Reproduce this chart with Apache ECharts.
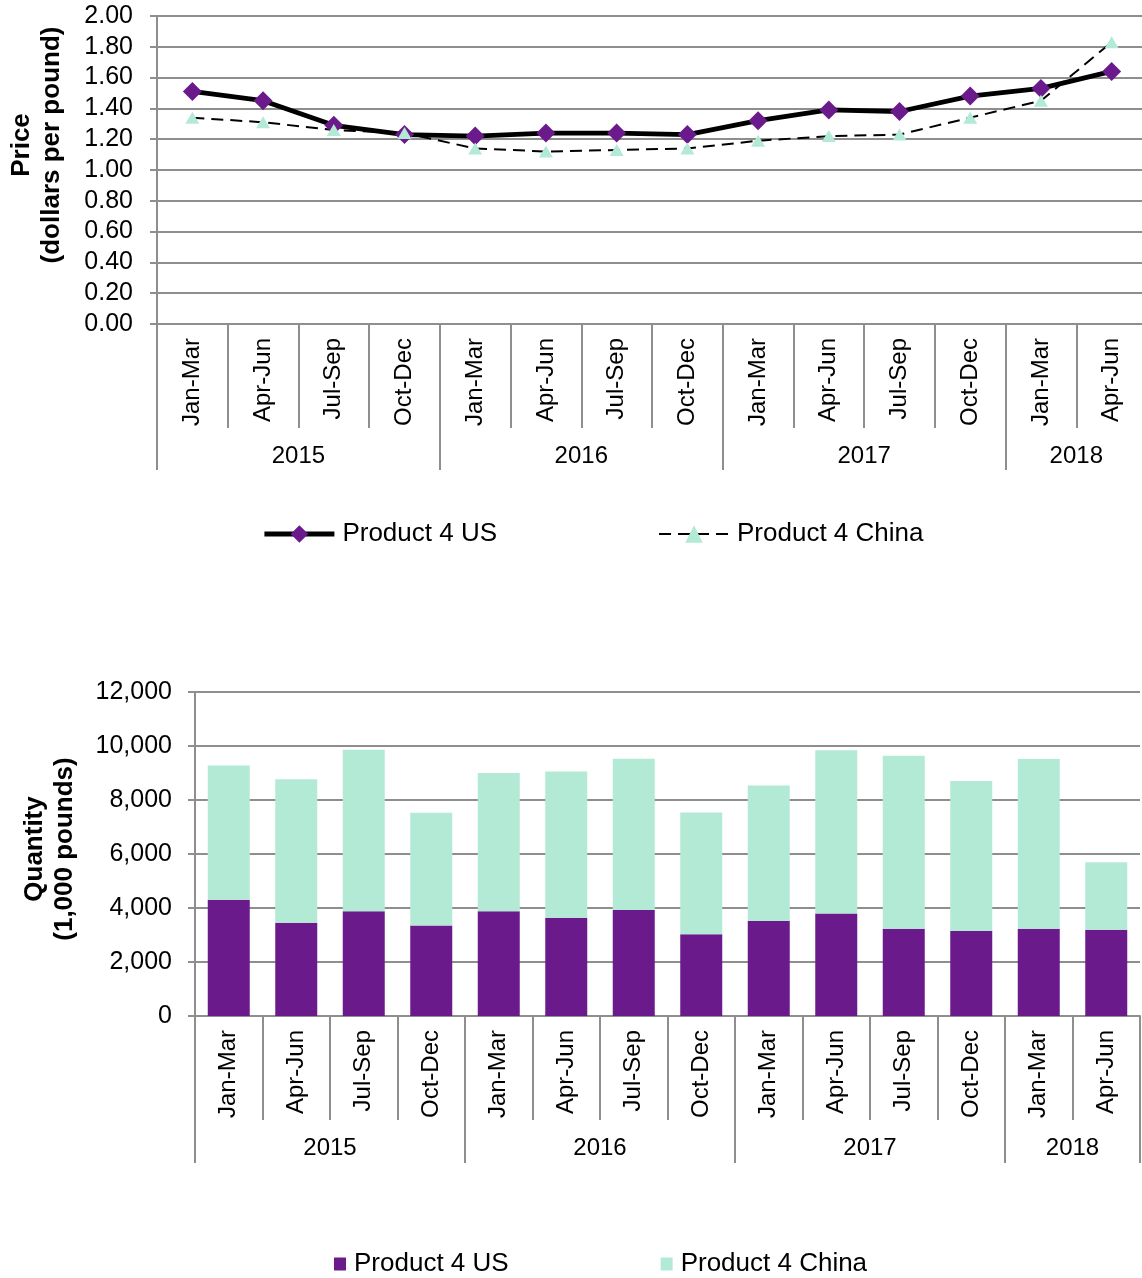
<!DOCTYPE html>
<html>
<head>
<meta charset="utf-8">
<script src="https://cdn.jsdelivr.net/npm/echarts@6/dist/echarts.min.js"></script>
<style>
  html, body { margin: 0; padding: 0; background: #ffffff; overflow: hidden; }
  #chart { width: 1152px; height: 1278px; }
</style>
</head>
<body>
<div id="chart"></div>
<script>
// Quarterly periods and the years that group them
const quarters = [
  'Jan-Mar', 'Apr-Jun', 'Jul-Sep', 'Oct-Dec',
  'Jan-Mar', 'Apr-Jun', 'Jul-Sep', 'Oct-Dec',
  'Jan-Mar', 'Apr-Jun', 'Jul-Sep', 'Oct-Dec',
  'Jan-Mar', 'Apr-Jun'
];
const years = ['2015', '2016', '2017', '2018'];
const quartersPerYear = [4, 4, 4, 2];

// Price, dollars per pound
const priceUS    = [1.51, 1.45, 1.29, 1.23, 1.22, 1.24, 1.24, 1.23, 1.32, 1.39, 1.38, 1.48, 1.53, 1.64];
const priceChina = [1.34, 1.31, 1.26, 1.24, 1.14, 1.12, 1.13, 1.14, 1.19, 1.22, 1.23, 1.34, 1.45, 1.83];

// Quantity, 1,000 pounds
const qtyUS    = [4310, 3450, 3880, 3350, 3880, 3640, 3930, 3030, 3520, 3800, 3230, 3150, 3230, 3190];
const qtyChina = [4970, 5320, 5980, 4180, 5120, 5420, 5600, 4510, 5020, 6040, 6410, 5550, 6290, 2500];

const seriesNames = ['Product 4 US', 'Product 4 China'];
const priceAxisTitle = 'Price\n(dollars per pound)';
const qtyAxisTitle = 'Quantity\n(1,000 pounds)';

const FONT = '"Liberation Sans", Arial, sans-serif';
const GRAY = '#8e8e8e';
const PURPLE = '#6b1a8c';
const TEAL = '#b3ead6';
const US_LINE_WIDTH = 4.8;
const CHINA_DASH = [12, 7];

// Year axis: half-quarter slots so year labels can sit between quarters
const yearBounds = [0];
quartersPerYear.forEach(n => yearBounds.push(yearBounds[yearBounds.length - 1] + n * 2));
const yearSlots = new Array(quarters.length * 2 + 1).fill('');
years.forEach((y, i) => { yearSlots[(yearBounds[i] + yearBounds[i + 1]) / 2] = y; });

function quarterAxis(gridIndex) {
  return {
    type: 'category', gridIndex, data: quarters, position: 'bottom', boundaryGap: true,
    axisLine: { show: true, lineStyle: { color: GRAY, width: 2 } },
    axisTick: { show: true, interval: 0, length: 104, lineStyle: { color: GRAY, width: 2 } },
    axisLabel: { interval: 0, rotate: 90, margin: 14, fontSize: 24, color: '#000', fontFamily: FONT },
    splitLine: { show: false }
  };
}
function yearAxis(gridIndex, tickLen) {
  return {
    type: 'category', gridIndex, data: yearSlots, position: 'bottom', boundaryGap: false,
    axisLine: { show: false },
    axisTick: { show: true, interval: (i) => yearBounds.includes(i), length: tickLen, lineStyle: { color: GRAY, width: 2 } },
    axisLabel: { interval: (i, v) => v !== '', margin: 120, fontSize: 24, color: '#000', fontFamily: FONT },
    splitLine: { show: false }
  };
}
function valueAxis(gridIndex, min, max, interval, formatter, margin) {
  return {
    type: 'value', gridIndex, min, max, interval,
    axisLine: { show: true, lineStyle: { color: GRAY, width: 2 } },
    axisTick: { show: true, length: 7, lineStyle: { color: GRAY, width: 2 } },
    axisLabel: { formatter, margin, fontSize: 25, color: '#000', fontFamily: FONT },
    splitLine: { show: true, lineStyle: { color: GRAY, width: 2 } }
  };
}

const chart = echarts.init(document.getElementById('chart'), null, { renderer: 'canvas' });
chart.setOption({
  animation: false,
  backgroundColor: '#ffffff',
  textStyle: { fontFamily: FONT },
  grid: [
    { left: 157, top: 16, width: 990, height: 308 },
    { left: 195, top: 692, width: 945, height: 324 }
  ],
  xAxis: [quarterAxis(0), yearAxis(0, 146), quarterAxis(1), yearAxis(1, 147)],
  yAxis: [
    valueAxis(0, 0, 2, 0.2, v => v.toFixed(2), 24),
    valueAxis(1, 0, 12000, 2000, v => v.toLocaleString('en-US'), 23)
  ],
  legend: [
    {
      left: 262, top: 521, padding: 0, itemGap: 161, itemWidth: 70, itemHeight: 22,
      data: [
        { name: seriesNames[0], lineStyle: { width: US_LINE_WIDTH, color: '#000' } },
        { name: seriesNames[1], lineStyle: { width: 2, color: '#000', type: CHINA_DASH } }
      ],
      textStyle: { fontSize: 26, color: '#000', fontFamily: FONT, padding: [0, 0, 0, 3] }
    },
    {
      left: 334, top: 1251, padding: 0, itemGap: 152, itemWidth: 12, itemHeight: 13,
      data: [
        { name: seriesNames[0], icon: 'rect', itemStyle: { color: PURPLE } },
        { name: seriesNames[1], icon: 'rect', itemStyle: { color: TEAL } }
      ],
      textStyle: { fontSize: 26, color: '#000', fontFamily: FONT, padding: [0, 0, 0, 3] }
    }
  ],
  graphic: [
    {
      type: 'text', x: 37, y: 145, rotation: Math.PI / 2,
      style: { text: priceAxisTitle, fontSize: 26, fontWeight: 'bold', fontFamily: FONT,
               textAlign: 'center', textVerticalAlign: 'middle', lineHeight: 30, fill: '#000' }
    },
    {
      type: 'text', x: 50, y: 849, rotation: Math.PI / 2,
      style: { text: qtyAxisTitle, fontSize: 26, fontWeight: 'bold', fontFamily: FONT,
               textAlign: 'center', textVerticalAlign: 'middle', lineHeight: 30, fill: '#000' }
    }
  ],
  series: [
    {
      name: seriesNames[0], type: 'line', xAxisIndex: 0, yAxisIndex: 0, data: priceUS,
      symbol: 'diamond', symbolSize: [19, 19],
      lineStyle: { color: '#000', width: US_LINE_WIDTH }, itemStyle: { color: PURPLE }
    },
    {
      name: seriesNames[1], type: 'line', xAxisIndex: 0, yAxisIndex: 0, data: priceChina,
      symbol: 'triangle', symbolSize: [14, 12],
      lineStyle: { color: '#000', width: 2, type: CHINA_DASH }, itemStyle: { color: TEAL }
    },
    {
      name: seriesNames[0], type: 'bar', stack: 'qty', xAxisIndex: 2, yAxisIndex: 1,
      data: qtyUS, barWidth: 42, itemStyle: { color: PURPLE }
    },
    {
      name: seriesNames[1], type: 'bar', stack: 'qty', xAxisIndex: 2, yAxisIndex: 1,
      data: qtyChina, barWidth: 42, itemStyle: { color: TEAL }
    }
  ]
});
</script>
</body>
</html>
